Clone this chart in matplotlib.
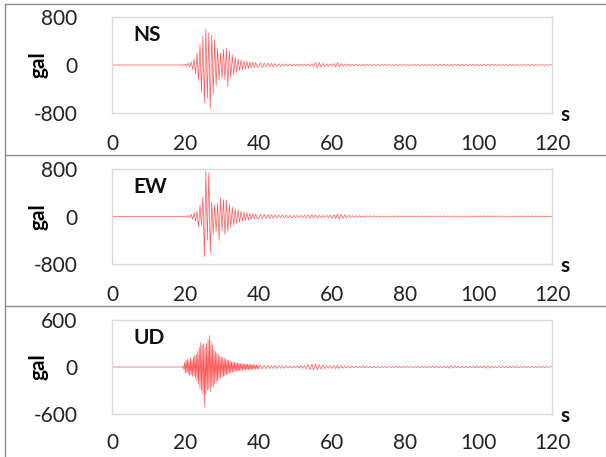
import matplotlib
matplotlib.use("Agg")
import matplotlib.pyplot as plt
from matplotlib.lines import Line2D
import numpy as np

plt.rcParams['font.family'] = ['Lato', 'DejaVu Sans']
plt.rcParams['axes.unicode_minus'] = False

# --- data (gal) ---
# strong motion part of NS and EW: one sample every 0.4 s from 18 s
ns_strong = [0, 4, -5, 8, -12, 15, -20, 30, -35, 50,
             -70, 100, -150, 200, -260, 350, -450, 480, -630, 600,
             -550, 535, -735, 500, -480, 420, -350, 280, -250, 200,
             -220, 260, -250, 280, -365, 235, -220, 170, -160, 130,
             -120, 100, -95, 85, -80, 70, -65, 60, -55, 50,
             -48, 45, -42, 40, -38]
ew_strong = [0, 3, -4, 5, -8, 10, -15, 20, -25, 35,
             -45, 60, -80, 90, -180, 200, -150, 330, -680, 770,
             -400, 735, -620, 250, -300, 200, -250, 220, -400, 315,
             -250, 280, -300, 270, -250, 200, -190, 160, -150, 130,
             -120, 110, -100, 90, -85, 75, -70, 62, -58, 55,
             -52, 48, -45, 42, -40]
# UD is denser: one sample every 0.2 s from 18 s
ud_strong = [0, 2, -2, 3, -3, 5, -5, 8, -30, 60,
             -80, 90, -70, 100, -90, 80, -110, 120, -100, 90,
             -120, 130, -110, 150, -140, 160, -180, 200, -220, 250,
             -280, 316, -300, 280, -350, 300, -510, 250, -350, 300,
             -300, 350, -280, 400, -320, 330, -250, 280, -260, 220,
             -220, 200, -200, 180, -180, 160, -160, 140, -140, 130,
             -130, 120, -120, 110, -110, 100, -100, 90, -90, 85,
             -80, 75, -75, 70, -70, 65, -62, 60, -58, 55,
             -55, 52, -50, 50, -48, 46, -45, 44, -42, 42,
             -40, 40, -38, 38, -36, 36, -35, 35, -34, 33,
             -32, 32, -30, 30, -30, 28, -28, 28, -26, 26]

# coda: one sample every 0.5 s from 40 s
ns_tail = [-35, 35, -40, 30, -35, 30, -30, 28, -30, 25,
           -25, 22, -22, 20, -20, 20, -18, 18, -18, 16,
           -16, 15, -15, 15, -14, 15, -16, 18, -20, 22,
           -30, 40, -50, 45, -40, 30, -25, 20, -20, 18,
           -20, 25, -35, 40, -30, 25, -20, 18, -15, 15,
           -15, 14, -14, 13, -13, 12, -12, 12, -12, 11,
           -11, 10, -10, 10, -10, 10, -10, 10, -10, 9,
           -9, 9, -9, 9, -9, 9, -9, 8, -8, 8,
           -8, 8, -8, 8, -8, 8, -8, 8, -8, 8,
           -8, 9, -9, 10, -10, 10, -10, 12, -12, 12,
           -12, 12, -12, 14, -14, 14, -14, 12, -12, 12,
           -12, 12, -12, 12, -12, 11, -11, 11, -11, 11,
           -12, 12, -14, 14, -14, 12, -12, 12, -10, 10,
           -10, 10, -10, 10, -10, 10, -9, 9, -9, 9,
           -9, 9, -9, 8, -8, 8, -8, 8, -8, 8,
           -8, 8, -7, 7, -7, 7, -7, 7, -6, 6, 0]
ew_tail = [-38, 36, -36, 34, -34, 32, -30, 30, -28, 26,
           -26, 25, -24, 24, -22, 22, -20, 20, -20, 18,
           -18, 18, -18, 20, -20, 22, -25, 28, -30, 30,
           -28, 25, -22, 20, -20, 18, -18, 20, -22, 25,
           -28, 32, -38, 42, -45, 40, -35, 30, -25, 20,
           -18, 16, -15, 14, -14, 13, -13, 12, -12, 12,
           -12, 12, -11, 11, -11, 11, -10, 10, -10, 10,
           -10, 10, -10, 10, -10, 10, -10, 9, -9, 9,
           -9, 9, -9, 9, -9, 9, -9, 9, -9, 9,
           -9, 9, -9, 10, -10, 10, -10, 10, -10, 10,
           -10, 10, -10, 10, -10, 10, -10, 11, -11, 11,
           -11, 11, -11, 11, -11, 11, -11, 11, -11, 11,
           -11, 11, -11, 11, -11, 10, -10, 10, -10, 10,
           -10, 12, -12, 12, -12, 10, -10, 10, -10, 10,
           -10, 10, -10, 10, -10, 9, -9, 9, -9, 9,
           -8, 8, -8, 8, -8, 7, -7, 7, -6, 6, 0]
ud_tail = [-26, 25, -24, 24, -22, 22, -20, 20, -20, 18,
           -18, 18, -16, 16, -15, 15, -14, 14, -14, 14,
           -14, 14, -15, 16, -18, 20, -25, 30, -35, 38,
           -40, 38, -35, 32, -28, 25, -20, 18, -16, 16,
           -18, 20, -22, 24, -20, 18, -16, 15, -14, 13,
           -12, 12, -11, 11, -10, 10, -10, 10, -9, 9,
           -9, 9, -9, 9, -9, 8, -8, 8, -8, 8,
           -8, 8, -8, 8, -8, 8, -8, 8, -8, 8,
           -8, 8, -8, 8, -8, 8, -8, 8, -8, 8,
           -8, 8, -8, 9, -9, 10, -10, 10, -10, 10,
           -10, 10, -10, 12, -15, 18, -15, 12, -10, 10,
           -10, 10, -10, 10, -10, 10, -10, 10, -10, 10,
           -10, 10, -12, 14, -16, 18, -14, 12, -10, 10,
           -10, 10, -10, 10, -10, 10, -9, 9, -9, 9,
           -9, 9, -9, 8, -8, 8, -8, 8, -8, 8,
           -8, 8, -7, 7, -7, 7, -7, 6, -6, 6, 0]

components = ['NS', 'EW', 'UD']
y_limits = [800, 800, 600]
x_ticks = [0, 20, 40, 60, 80, 100, 120]


def build_trace(strong, step, tail):
    t = np.concatenate([[0.0],
                        18 + step * np.arange(len(strong)),
                        40 + 0.5 * np.arange(len(tail))])
    a = np.concatenate([[0.0], strong, tail])
    return t, a


traces = [build_trace(ns_strong, 0.4, ns_tail),
          build_trace(ew_strong, 0.4, ew_tail),
          build_trace(ud_strong, 0.2, ud_tail)]

W, H = 606, 457
fig = plt.figure(figsize=(W / 100, H / 100), dpi=100)

# axes boxes in pixel coords (top, bottom)
boxes = [(17, 113), (169, 264), (320, 414)]
left_px, right_px = 112, 552
fs = 15

for k, (name, lim, (t, a)) in enumerate(zip(components, y_limits, traces)):
    top, bot = boxes[k]
    ax = fig.add_axes([left_px / W, 1 - bot / H,
                       (right_px - left_px) / W, (bot - top) / H])
    ax.plot(t, a, color='#ff0000', lw=0.5, alpha=0.65)
    ax.set_xlim(0, 120)
    ax.set_ylim(-lim, lim)
    ax.set_xticks(x_ticks)
    ax.set_yticks([-lim, 0, lim])
    ax.tick_params(axis='both', length=0, labelsize=fs, colors='#222222')
    ax.tick_params(axis='x', pad=15 if k < 2 else 13.5)
    ax.tick_params(axis='y', pad=25)
    for sp in ax.spines.values():
        sp.set_color('#d9d9d9')
        sp.set_linewidth(1.0)
    ax.text(0.048, 0.81, name, transform=ax.transAxes, fontsize=fs,
            fontweight='bold', va='center', ha='left', color='#111111')
    ax.set_ylabel('gal', fontsize=fs, fontweight='bold')
    ax.yaxis.set_label_coords(-0.145, 0.5)
    ax.text(1.02, -0.02, 's', transform=ax.transAxes, fontsize=fs,
            fontweight='bold', va='center', ha='left', color='#111111')

# panel frame lines
line_c = '#8c8c8c'
fig.add_artist(Line2D([5 / W, 1], [1 - 4 / H, 1 - 4 / H], color=line_c, lw=1))
fig.add_artist(Line2D([5 / W, 5 / W], [0, 1 - 4 / H], color=line_c, lw=1))
for yp in (155, 306):
    fig.add_artist(Line2D([5 / W, 1], [1 - yp / H, 1 - yp / H], color=line_c, lw=1))

fig.savefig('out.png', dpi=100)
